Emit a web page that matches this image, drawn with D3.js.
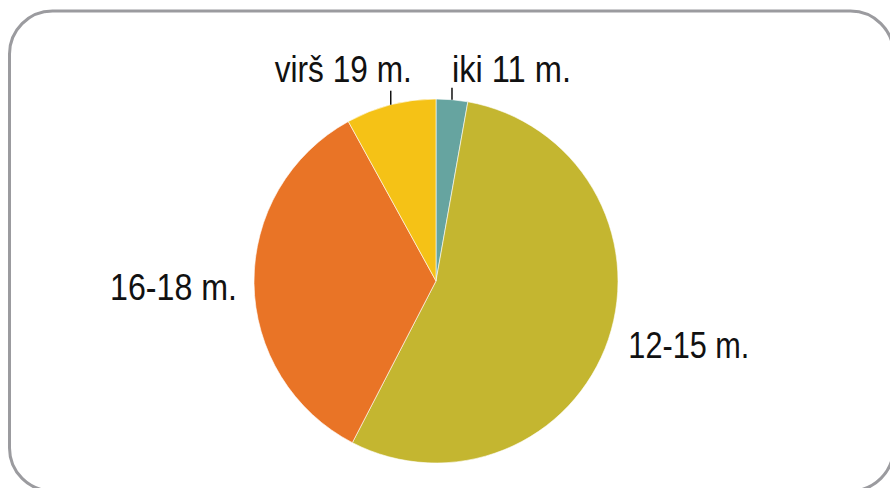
<!DOCTYPE html>
<html>
<head>
<meta charset="utf-8">
<script src="https://cdn.jsdelivr.net/npm/d3@7"></script>
<style>
    html, body { margin: 0; padding: 0; background: #fff; }
    svg { display: block; }
    .lbl { font-family: "Liberation Sans", Arial, sans-serif; font-size: 36px; fill: #111; }
</style>
</head>
<body>
<div id="chart"></div>
<script>
    // Amžiaus grupės (pradedant nuo viršaus, pagal laikrodžio rodyklę)
    const categories = ["iki 11 m.", "12-15 m.", "16-18 m.", "virš 19 m."];
    const shares = [2.8, 54.8, 34.4, 8.0];
    const colors = ["#66A4A0", "#C4B630", "#E97426", "#F5C216"];

    const width = 890, height = 488;
    const cx = 436, cy = 281, radius = 182;

    const svg = d3.select("#chart")
        .append("svg")
        .attr("width", width)
        .attr("height", height);

    // rounded frame
    svg.append("rect")
        .attr("x", 9.5).attr("y", 11)
        .attr("width", 884).attr("height", 480)
        .attr("rx", 43).attr("ry", 43)
        .attr("fill", "#fff")
        .attr("stroke", "#9B9B9F")
        .attr("stroke-width", 3);

    const pie = d3.pie().sort(null).value(d => d);
    const arcs = pie(shares);

    const arc = d3.arc().innerRadius(0).outerRadius(radius);

    const g = svg.append("g")
        .attr("transform", `translate(${cx},${cy})`);

    g.selectAll("path")
        .data(arcs)
        .enter().append("path")
        .attr("d", arc)
        .attr("fill", (d, i) => colors[i])
        .attr("stroke", "#fff")
        .attr("stroke-width", 0.6);

    // label layout: offsets from the slice's mid point on the rim
    const labelCfg = [
        { dx: 0, dy: -18, anchor: "start", len: 119, leader: 12 },
        { dx: 20, dy: 19, anchor: "start", len: 121, leader: 0 },
        { dx: -17, dy: 17, anchor: "end", len: 127, leader: 0 },
        { dx: 21, dy: -23, anchor: "end", len: 137, leader: 14 }
    ];

    arcs.forEach((d, i) => {
        const a = (d.startAngle + d.endAngle) / 2;
        const px = radius * Math.sin(a), py = -radius * Math.cos(a);
        const c = labelCfg[i];
        if (c.leader) {
            g.append("line")
                .attr("x1", px).attr("y1", py)
                .attr("x2", px).attr("y2", py - c.leader)
                .attr("stroke", "#111")
                .attr("stroke-width", 1.5);
        }
        g.append("text")
            .attr("class", "lbl")
            .attr("x", px + c.dx)
            .attr("y", py + c.dy)
            .attr("text-anchor", c.anchor)
            .attr("textLength", c.len)
            .attr("lengthAdjust", "spacingAndGlyphs")
            .text(categories[i]);
    });
</script>
</body>
</html>
